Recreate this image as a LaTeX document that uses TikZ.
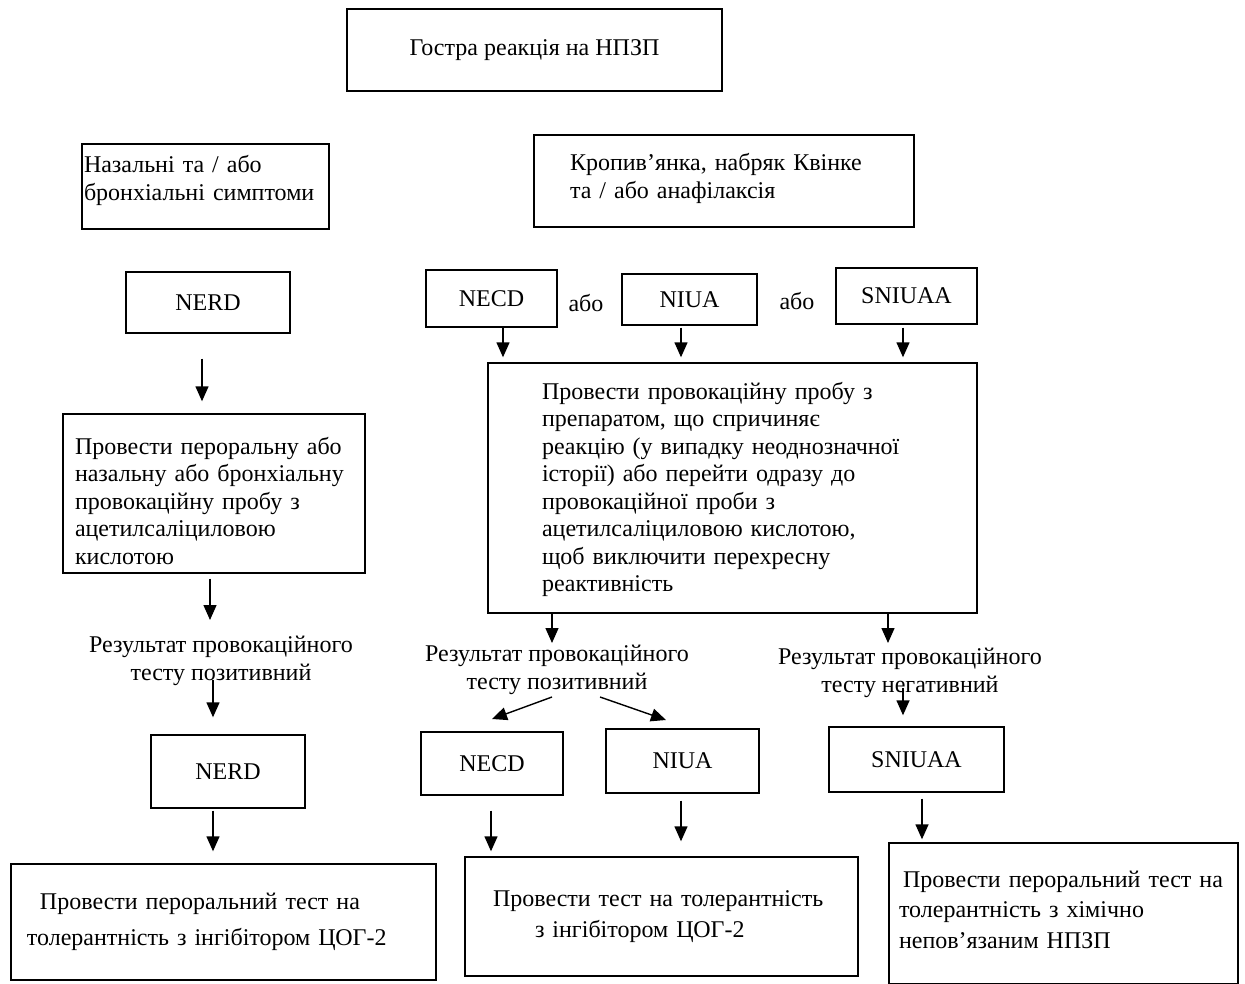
\documentclass[tikz,border=0pt]{standalone}
\usepackage{fontspec}
\setmainfont{Liberation Serif}
\usetikzlibrary{arrows.meta}
\newcommand\myfs{\fontsize{24}{27.5}\selectfont}
\newcommand\toppad[1]{\rule{0pt}{#1}}
\newcommand\botpad[1]{\rule[-#1]{0pt}{0pt}}
\begin{document}
\begin{tikzpicture}[x=1pt,y=-1pt,
  box/.style={draw, line width=1.4pt, rectangle, inner sep=0pt, font=\myfs, align=left},
  cbox/.style={box, align=center},
  txt/.style={inner sep=0pt, font=\myfs, align=center},
  arr/.style={line width=1.4pt, -{Triangle[length=15pt,width=13pt]}}]
\useasboundingbox (0,0) rectangle (1245,984);
% boxes
\node[cbox, minimum width=375pt, minimum height=82pt] (top) at (534.5,50) {Гостра реакція на НПЗП};
\node[box, minimum width=247pt, minimum height=85pt, text width=243pt] (nas) at (205.5,186.5) {Назальні та / або\\бронхіальні симптоми\botpad{17pt}};
\node[box, minimum width=380pt, minimum height=92pt, text width=308pt] (krop) at (724,181) {Кропив’янка, набряк Квінке\\та / або анафілаксія\botpad{10pt}};
\node[cbox, minimum width=164pt, minimum height=61pt] (nerd1) at (208,302.5) {NERD};
\node[box, minimum width=302pt, minimum height=159pt, text width=278pt] (prov1) at (214,493.5) {\toppad{32pt}Провести пероральну або\\назальну або бронхіальну\\провокаційну пробу з\\ацетилсаліциловою\\кислотою};
\node[cbox, minimum width=131pt, minimum height=57pt] (necd1) at (491.5,298.5) {NECD};
\node[cbox, minimum width=135pt, minimum height=51pt] (niua1) at (689.5,299.5) {NIUA};
\node[cbox, minimum width=141pt, minimum height=56pt] (sniuaa1) at (906.5,296) {SNIUAA};
\node[txt] (abo1) at (586,303) {або};
\node[txt] (abo2) at (797,301) {або};
\node[box, minimum width=489pt, minimum height=250pt, text width=381pt] (big) at (732.5,488) {\toppad{20pt}Провести провокаційну пробу з\\препаратом, що спричиняє\\реакцію (у випадку неоднозначної\\історії) або перейти одразу до\\провокаційної проби з\\ацетилсаліциловою кислотою,\\щоб виключити перехресну\\реактивність};
\node[txt] (res1) at (221,661) {Результат провокаційного\\тесту позитивний};
\node[txt] (res2) at (557,670) {Результат провокаційного\\тесту позитивний};
\node[txt] (res3) at (910,673) {Результат провокаційного\\тесту негативний};
\node[cbox, minimum width=154pt, minimum height=73pt] (nerd2) at (228,771.5) {NERD};
\node[cbox, minimum width=142pt, minimum height=63pt] (necd2) at (492,763.5) {NECD};
\node[cbox, minimum width=153pt, minimum height=64pt] (niua2) at (682.5,761) {NIUA};
\node[cbox, minimum width=175pt, minimum height=65pt] (sniuaa2) at (916.5,759.5) {SNIUAA};
\node[box, minimum width=425pt, minimum height=116pt, text width=393pt] (fin1) at (223.5,922) {\hspace*{13pt}Провести пероральний тест на\\[9pt]толерантність з інгібітором ЦОГ-2};
\node[box, minimum width=393pt, minimum height=119pt, text width=337pt] (fin2) at (661.5,916.5) {Провести тест на толерантність\\[3pt]\hspace*{42pt}з інгібітором ЦОГ-2};
\node[box, minimum width=349pt, minimum height=141pt, text width=329pt] (fin3) at (1063.5,913.5) {\hspace*{4pt}Провести пероральний тест на\\[3pt]толерантність з хімічно\\[3pt]непов’язаним НПЗП\botpad{8pt}};
% column coordinates and free arrow ends
\coordinate (x202) at (202,0);
\coordinate (x210) at (210,0);
\coordinate (x213) at (213,0);
\coordinate (x503) at (503,0);
\coordinate (x681) at (681,0);
\coordinate (x903) at (903,0);
\coordinate (x552) at (552,0);
\coordinate (x888) at (888,0);
\coordinate (x491) at (491,0);
\coordinate (x922) at (922,0);
\coordinate (e2) at (210,620);
\coordinate (s3) at (213,680);
\coordinate (e4) at (552,643);
\coordinate (e5) at (888,643);
\coordinate (s6) at (552,697);
\coordinate (e6) at (492,719);
\coordinate (s7) at (600,697);
\coordinate (e7) at (666,720);
\coordinate (s8) at (903,688);
% arrows left
\draw[arr, shorten <=25pt, shorten >=12pt] (nerd1.south -| x202) -- (prov1.north -| x202);
\draw[arr, shorten <=5pt] (prov1.south -| x210) -- (e2);
\draw[arr, shorten >=17pt] (s3) -- (nerd2.north -| s3);
\draw[arr, shorten <=2pt, shorten >=12pt] (nerd2.south -| x213) -- (fin1.north -| x213);
% arrows right
\draw[arr, shorten >=5pt] (necd1.south -| x503) -- (big.north -| x503);
\draw[arr, shorten <=2pt, shorten >=5pt] (niua1.south -| x681) -- (big.north -| x681);
\draw[arr, shorten <=3pt, shorten >=5pt] (sniuaa1.south -| x903) -- (big.north -| x903);
\draw[arr] (big.south -| x552) -- (e4);
\draw[arr] (big.south -| x888) -- (e5);
\draw[arr] (s6) -- (e6);
\draw[arr] (s7) -- (e7);
\draw[arr, shorten >=11pt] (s8) -- (sniuaa2.north -| s8);
\draw[arr, shorten <=15pt, shorten >=5pt] (necd2.south -| x491) -- (fin2.north -| x491);
\draw[arr, shorten <=7pt, shorten >=15pt] (niua2.south -| x681) -- (fin2.north -| x681);
\draw[arr, shorten <=6pt, shorten >=3pt] (sniuaa2.south -| x922) -- (fin3.north -| x922);
\end{tikzpicture}
\end{document}
